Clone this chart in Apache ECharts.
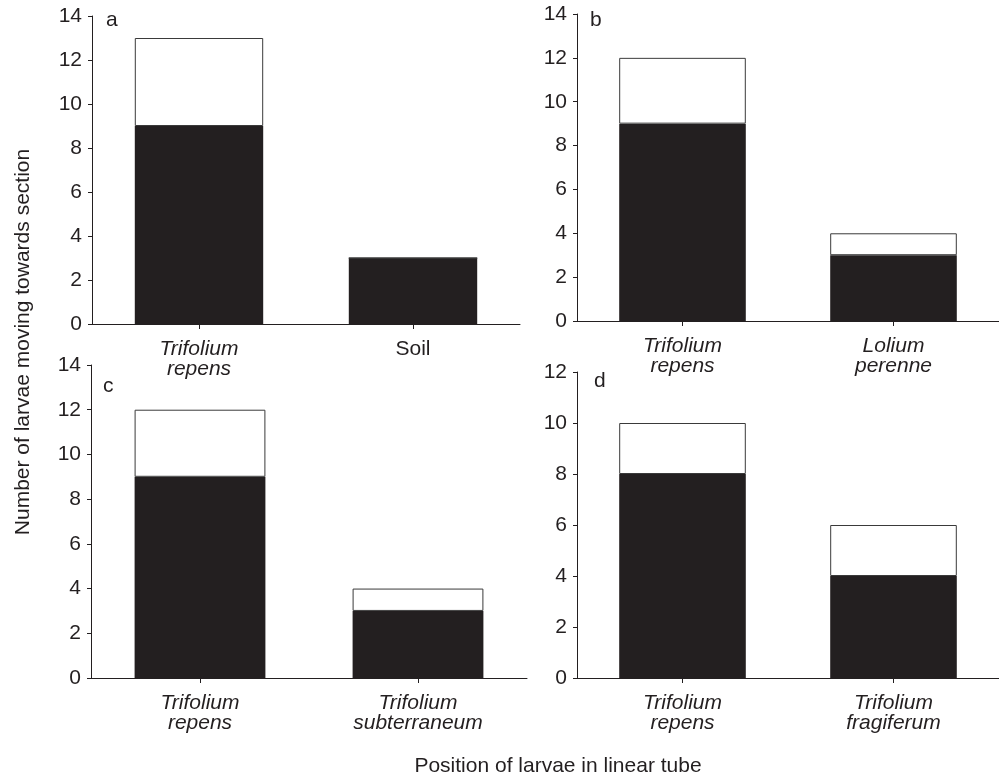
<!DOCTYPE html>
<html>
<head>
<meta charset="utf-8">
<style>html,body{margin:0;padding:0;background:#fff}#c{width:999px;height:777px}</style>
<script src="https://cdn.jsdelivr.net/npm/echarts@6/dist/echarts.min.js"></script>
</head>
<body>
<div id="c"></div>
<script>
// Categories per panel
const catsA = ['Trifolium\nrepens', 'Soil'];
const catsB = ['Trifolium\nrepens', 'Lolium\nperenne'];
const catsC = ['Trifolium\nrepens', 'Trifolium\nsubterraneum'];
const catsD = ['Trifolium\nrepens', 'Trifolium\nfragiferum'];
// Black (lower) and white (upper) segment values per panel
const blackA = [9, 3];
const whiteA = [4, 0];
const blackB = [9, 3];
const whiteB = [3, 1];
const blackC = [9, 3];
const whiteC = [3, 1];
const blackD = [8, 4];
const whiteD = [2, 2];
// Y axis ranges
const yMaxA = 14, yMaxB = 14, yMaxC = 14, yMaxD = 12;
const yStep = 2;
const panelLetters = ['a', 'b', 'c', 'd'];
const yTitle = 'Number of larvae moving towards section';
const xTitle = 'Position of larvae in linear tube';

const FONT = 'Liberation Sans, Arial, Helvetica, sans-serif';
const TXT = '#231f20';
const FS = 21;

const grids = [
  {left: 92, top: 16, width: 428, height: 308},
  {left: 577, top: 14, width: 428, height: 307},
  {left: 91, top: 365, width: 436, height: 313},
  {left: 577, top: 372, width: 428, height: 306}
];

function fmtCat(v) {
  if (v === 'Soil') return '{n|' + v + '}';
  return v.split('\n').map(s => '{i|' + s + '}').join('\n');
}

function xAx(i, cats) {
  return {
    type: 'category', gridIndex: i, data: cats,
    axisLine: {show: true, lineStyle: {color: TXT, width: 1}},
    axisTick: {show: true, alignWithLabel: true, length: 5, lineStyle: {color: TXT}},
    axisLabel: {
      margin: 15, formatter: fmtCat, interval: 0,
      rich: {
        i: {fontStyle: 'italic', fontSize: FS, fontFamily: FONT, color: TXT, lineHeight: 20},
        n: {fontStyle: 'normal', fontSize: FS, fontFamily: FONT, color: TXT, lineHeight: 20}
      }
    },
    splitLine: {show: false}
  };
}
function yAx(i, max) {
  return {
    type: 'value', gridIndex: i, min: 0, max: max, interval: yStep,
    axisLine: {show: true, lineStyle: {color: TXT, width: 1}},
    axisTick: {show: true, inside: false, length: 4, lineStyle: {color: TXT}},
    axisLabel: {margin: 10, fontSize: FS, fontFamily: FONT, color: TXT},
    splitLine: {show: false}
  };
}
function ser(i, data, white) {
  return {
    type: 'bar', xAxisIndex: i, yAxisIndex: i, stack: 's' + i, data: data,
    barWidth: '60%',
    itemStyle: white
      ? {color: '#ffffff', borderColor: '#3a3a3a', borderWidth: 1}
      : {color: '#231f20', borderColor: '#231f20', borderWidth: 0},
    emphasis: {disabled: true}, animation: false
  };
}

const letterPos = [[106, 21], [590, 21], [103, 387], [594, 382]];

const option = {
  backgroundColor: '#ffffff',
  animation: false,
  grid: grids,
  xAxis: [xAx(0, catsA), xAx(1, catsB), xAx(2, catsC), xAx(3, catsD)],
  yAxis: [yAx(0, yMaxA), yAx(1, yMaxB), yAx(2, yMaxC), yAx(3, yMaxD)],
  series: [
    ser(0, blackA, false), ser(0, whiteA, true),
    ser(1, blackB, false), ser(1, whiteB, true),
    ser(2, blackC, false), ser(2, whiteC, true),
    ser(3, blackD, false), ser(3, whiteD, true)
  ],
  graphic: panelLetters.map((l, k) => ({
    type: 'text', left: letterPos[k][0], top: letterPos[k][1] - 11,
    style: {text: l, fontSize: FS, fontFamily: FONT, fill: TXT}
  })).concat([
    {type: 'text', x: 23, y: 342, rotation: Math.PI / 2,
     style: {text: yTitle, fontSize: FS, fontFamily: FONT, fill: TXT, align: 'center', verticalAlign: 'middle'}},
    {type: 'text', x: 558, y: 766,
     style: {text: xTitle, fontSize: FS, fontFamily: FONT, fill: TXT, align: 'center', verticalAlign: 'middle'}}
  ])
};

const chart = echarts.init(document.getElementById('c'), null, {renderer: 'canvas'});
chart.setOption(option);
</script>
</body>
</html>
